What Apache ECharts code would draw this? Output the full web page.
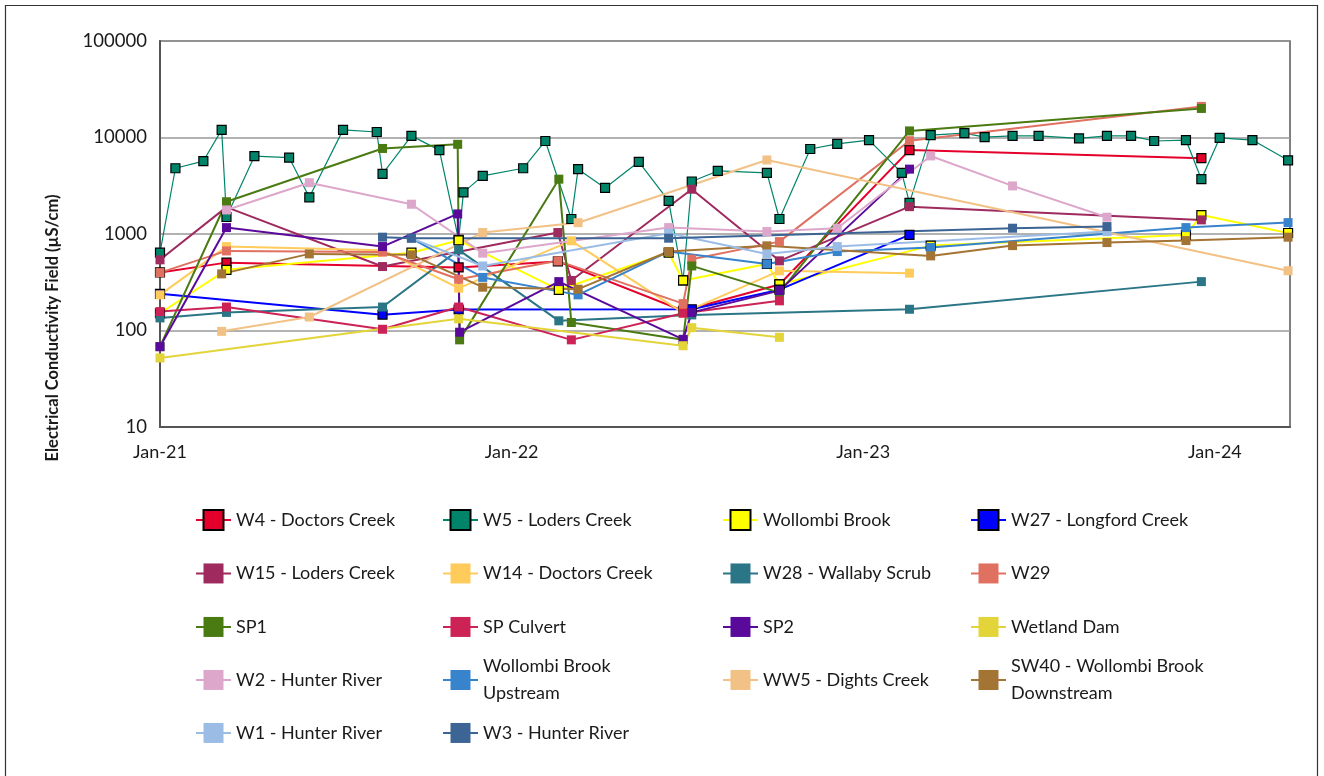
<!DOCTYPE html>
<html><head><meta charset="utf-8">
<script src="https://cdn.jsdelivr.net/npm/echarts@6/dist/echarts.min.js"></script>
<style>html,body{margin:0;padding:0;background:#fff}#c{width:1324px;height:776px}</style>
</head><body><div id="c"></div>
<script>
const xTickLabels = ['Jan-21', 'Jan-22', 'Jan-23', 'Jan-24'];
const axisStart = '2021-01-01';
const axisEnd = '2024-03-19';

const W4 = [['2021-01-01',400],['2021-03-11',505],['2021-11-07',450],['2022-02-18',520],['2022-06-28',160],['2022-10-06',300],['2023-02-18',7400],['2023-12-18',6100]];
const W5 = [['2021-01-01',640],['2021-01-17',4800],['2021-02-15',5700],['2021-03-06',12000],['2021-03-11',1500],['2021-04-09',6400],['2021-05-15',6200],['2021-06-05',2400],['2021-07-10',12000],['2021-08-14',11400],['2021-08-20',4200],['2021-09-19',10400],['2021-10-18',7400],['2021-11-07',870],['2021-11-12',2700],['2021-12-02',4000],['2022-01-13',4800],['2022-02-05',9200],['2022-03-04',1430],['2022-03-11',4700],['2022-04-08',3000],['2022-05-13',5600],['2022-06-13',2200],['2022-06-28',330],['2022-07-07',3500],['2022-08-03',4500],['2022-09-23',4300],['2022-10-06',1430],['2022-11-07',7600],['2022-12-05',8600],['2023-01-07',9400],['2023-02-10',4300],['2023-02-18',2100],['2023-03-12',10600],['2023-04-16',11100],['2023-05-07',10100],['2023-06-05',10400],['2023-07-02',10400],['2023-08-13',9800],['2023-09-11',10400],['2023-10-06',10400],['2023-10-30',9200],['2023-12-02',9400],['2023-12-18',3700],['2024-01-06',9900],['2024-02-09',9400],['2024-03-17',5800]];
const WOLLOMBI = [['2021-01-01',151],['2021-03-11',425],['2021-09-19',640],['2021-11-07',860],['2022-02-19',264],['2022-06-13',640],['2022-06-28',330],['2022-09-23',490],['2022-10-06',300],['2023-03-12',758],['2023-12-02',979],['2023-12-18',1570],['2024-03-17',1024]];
const W27 = [['2021-01-01',240],['2021-08-20',146],['2021-11-07',165],['2022-07-07',166],['2022-10-06',265],['2023-02-18',979]];
const W15 = [['2021-01-01',540],['2021-03-11',1900],['2021-08-20',460],['2022-02-18',1035],['2022-03-04',330],['2022-07-07',2910],['2022-10-06',527],['2023-02-18',1920],['2023-12-18',1400]];
const W14 = [['2021-01-01',234],['2021-03-11',740],['2021-08-20',680],['2021-11-07',275],['2022-03-04',850],['2022-06-28',152],['2022-10-06',415],['2023-02-18',393]];
const W28 = [['2021-01-01',135],['2021-03-11',154],['2021-08-20',175],['2021-11-07',684],['2022-02-19',126],['2022-07-07',145],['2023-02-18',166],['2023-12-18',321]];
const W29 = [['2021-01-01',398],['2021-03-11',668],['2021-08-20',650],['2021-11-07',340],['2022-02-18',527],['2022-06-28',190],['2022-07-07',548],['2022-10-06',834],['2023-02-18',9270],['2023-12-18',21000]];
const SP1 = [['2021-01-01',68],['2021-03-11',2160],['2021-08-20',7700],['2021-11-06',8500],['2021-11-08',80],['2022-02-19',3700],['2022-03-04',121],['2022-06-28',80],['2022-07-07',467],['2022-10-06',247],['2023-02-18',11700],['2023-12-18',20000]];
const SP_CULVERT = [['2021-01-01',157],['2021-03-11',175],['2021-08-20',103],['2021-11-07',175],['2022-03-04',80],['2022-06-28',151],['2022-10-06',203]];
const SP2 = [['2021-01-01',68],['2021-03-11',1165],['2021-08-20',741],['2021-11-06',1614],['2021-11-08',96],['2022-02-19',321],['2022-06-28',81],['2022-07-07',154],['2022-10-06',259],['2023-02-18',4700]];
const WETLAND_DAM = [['2021-01-01',52],['2021-11-07',132],['2022-06-28',69.5],['2022-07-07',107],['2022-10-06',85]];
const W2 = [['2021-03-11',1776],['2021-06-05',3400],['2021-09-19',2035],['2021-12-02',633],['2022-06-13',1165],['2022-09-23',1059],['2022-12-05',1148],['2023-03-12',6440],['2023-06-05',3150],['2023-09-11',1493]];
const WB_UPSTREAM = [['2021-09-19',900],['2021-12-02',355],['2022-03-11',234],['2022-06-13',658],['2022-09-23',490],['2022-12-05',658],['2023-03-12',724],['2023-12-02',1165],['2024-03-17',1312]];
const WW5 = [['2021-03-06',98],['2021-06-05',138],['2021-12-02',1035],['2022-03-11',1310],['2022-09-23',5850],['2024-03-17',416]];
const SW40 = [['2021-03-06',386],['2021-06-05',622],['2021-09-19',608],['2021-12-02',281],['2022-03-11',268],['2022-06-13',658],['2022-09-23',754],['2023-03-12',593],['2023-06-05',758],['2023-09-11',815],['2023-12-02',855],['2024-03-17',927]];
const W1 = [['2021-09-19',900],['2021-12-02',466],['2022-06-13',1019],['2022-09-23',622],['2022-12-05',741],['2023-09-11',1059]];
const W3 = [['2021-08-20',927],['2021-09-19',905],['2022-06-13',905],['2023-06-05',1148],['2023-09-11',1194]];

const seriesNames = ['W4 - Doctors Creek','W5 - Loders Creek','Wollombi Brook','W27 - Longford Creek','W15 - Loders Creek','W14 - Doctors Creek','W28 - Wallaby Scrub','W29','SP1','SP Culvert','SP2','Wetland Dam','W2 - Hunter River','Wollombi Brook Upstream','WW5 - Dights Creek','SW40 - Wollombi Brook Downstream','W1 - Hunter River','W3 - Hunter River'];
const seriesData = [W4,W5,WOLLOMBI,W27,W15,W14,W28,W29,SP1,SP_CULVERT,SP2,WETLAND_DAM,W2,WB_UPSTREAM,WW5,SW40,W1,W3];
const seriesColors = ['#E4002B','#00856A','#FFFF00','#0000FF','#9E2A5E','#FFCC5C','#2A7586','#E07060','#4A7A12','#CC2255','#5A0A9A','#E3D43A','#DDA6CB','#3783CC','#F2C185','#A47434','#9BBDE5','#3C6494'];
const blackBorder = [true,true,true,true,false,false,false,false,false,false,false,false,false,false,false,false,false,false];
const legendLabels = {'Wollombi Brook Upstream':'Wollombi Brook\nUpstream','SW40 - Wollombi Brook Downstream':'SW40 - Wollombi Brook\nDownstream'};

const DAY = 86400000;
function dayIndex(s){const p=s.split('-').map(Number);const a=axisStart.split('-').map(Number);return Math.round((Date.UTC(p[0],p[1]-1,p[2])-Date.UTC(a[0],a[1]-1,a[2]))/DAY);}
const xMax = dayIndex(axisEnd);
const FONT = 'Lato, "Open Sans", sans-serif';

const series = seriesNames.map((n,i)=>({
  name:n, type:'line', data: seriesData[i].map(d=>[dayIndex(d[0]), d[1]]),
  symbol:'rect', symbolSize: 9, showSymbol:true, animation:false,
  lineStyle:{color:seriesColors[i], width: i===1?1.2:2},
  itemStyle:{color:seriesColors[i], borderColor: blackBorder[i]?'#000':seriesColors[i], borderWidth: blackBorder[i]?1.2:0},
  emphasis:{disabled:true}
}));

const colX = [195, 442, 722, 970];
const rowY = [520, 573.5, 627, 680, 733];
const legendLayout = [[0,0],[1,0],[2,0],[3,0],[0,1],[1,1],[2,1],[3,1],[0,2],[1,2],[2,2],[3,2],[0,3],[1,3],[2,3],[3,3],[0,4],[1,4]];
const legends = seriesNames.map((n,i)=>{
  const c = legendLayout[i][0], r = legendLayout[i][1];
  const multi = !!legendLabels[n];
  return {
    data:[n], orient:'horizontal', left: colX[c], top: rowY[r] - (multi?26.7:13.4),
    padding:0, itemWidth:35, itemHeight:25, itemGap:0, selectedMode:false,
    formatter: nm => legendLabels[nm] || nm,
    textStyle:{fontFamily:FONT, fontSize:18, color:'#1a1a1a', lineHeight:26.7, padding:[0,0,0,0]}
  };
});

const chart = echarts.init(document.getElementById('c'), null, {renderer:'canvas'});
chart.setOption({
  animation:false,
  backgroundColor:'#fff',
  grid:{left:160, right:34, top:41, bottom:349, show:true, borderColor:'#555', borderWidth:1.5, containLabel:false},
  xAxis:{type:'value', min:0, max:xMax, interval:365,
    axisLine:{show:true, lineStyle:{color:'#555', width:2}}, axisTick:{show:false}, splitLine:{show:false},
    axisLabel:{fontFamily:FONT, fontSize:18, color:'#1a1a1a', margin:16,
      formatter: v => (v % 365 === 0 && xTickLabels[v/365]) ? xTickLabels[v/365] : ''}},
  yAxis:{type:'log', logBase:10, min:10, max:100000,
    axisLine:{show:true, lineStyle:{color:'#555', width:2}}, axisTick:{show:false},
    splitLine:{show:true, lineStyle:{color:'#999', width:1.5}},
    axisLabel:{fontFamily:FONT, fontSize:18.5, color:'#1a1a1a', margin:13, formatter: v => String(Math.round(v))}},
  legend: legends,
  graphic:[
    {type:'rect', shape:{x:5.5, y:5.5, width:1312, height:800}, style:{fill:'none', stroke:'#333', lineWidth:1.2}, silent:true},
    {type:'text', x:53, y:328, rotation:Math.PI/2, style:{text:'Electrical Conductivity Field (µS/cm)', font:'bold 16.5px '+FONT, fill:'#1a1a1a', align:'center', verticalAlign:'middle'}, silent:true}
  ],
  series: series
});
</script></body></html>
